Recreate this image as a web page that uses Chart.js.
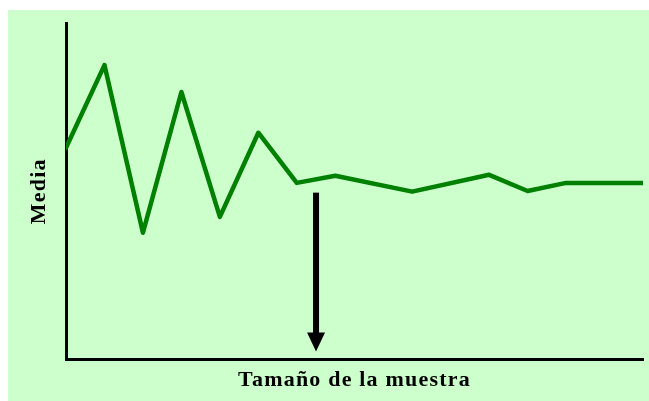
<!DOCTYPE html>
<html>
<head>
<meta charset="utf-8">
<script src="https://cdn.jsdelivr.net/npm/chart.js@4.4.0/dist/chart.umd.min.js"></script>
<style>
  html, body { margin: 0; padding: 0; background: #ffffff; }
  #box { position: absolute; left: 8px; top: 10px; width: 641px; height: 391px; background: #ccffcc; }
</style>
</head>
<body>
<div id="box"><canvas id="chart" width="641" height="391"></canvas></div>
<script>
// sample size steps (x) and the running mean (y)
const sampleSteps = [0, 1, 2, 3, 4, 5, 6, 7, 9, 11, 12, 13, 15];
const meanValues = [62.9, 87.5, 37.7, 79.5, 42.4, 67.4, 52.5, 54.6, 49.9, 54.9, 50.1, 52.5, 52.5];

// arrow marking where the mean settles
const arrowStep = [6.5];
const arrowFrom = [49.6];
const arrowTo = [2.4];

const xTitle = "Tamaño de la muestra";
const yTitle = "Media";

document.addEventListener("DOMContentLoaded", () => {
  const points = sampleSteps.map((s, i) => ({ x: s, y: meanValues[i] }));

  // old-style wide title lettering
  const spacingPlugin = {
    id: "spacing",
    beforeDraw(chart) {
      chart.ctx.letterSpacing = "1.2px";
    }
  };

  const arrowPlugin = {
    id: "arrow",
    afterDatasetsDraw(chart) {
      const { ctx, scales } = chart;
      const x = scales.x.getPixelForValue(arrowStep[0]);
      const y1 = scales.y.getPixelForValue(arrowFrom[0]);
      const y2 = scales.y.getPixelForValue(arrowTo[0]);
      const headLen = 19;
      const headHalf = 9;

      ctx.save();
      ctx.fillStyle = "#000000";
      ctx.fillRect(x - 3, y1, 6, y2 - y1 - headLen + 1);
      ctx.beginPath();
      ctx.moveTo(x - headHalf, y2 - headLen);
      ctx.lineTo(x + headHalf, y2 - headLen);
      ctx.lineTo(x, y2);
      ctx.closePath();
      ctx.fill();
      ctx.restore();
    }
  };

  new Chart(document.getElementById("chart"), {
    type: "line",
    data: {
      datasets: [
        {
          data: points,
          borderColor: "#008000",
          borderWidth: 4.5,
          borderJoinStyle: "round",
          borderCapStyle: "round",
          pointRadius: 0,
          tension: 0,
          fill: false
        }
      ]
    },
    options: {
      responsive: false,
      animation: false,
      layout: {
        padding: { top: 13, right: 6, bottom: 0, left: 0 }
      },
      plugins: {
        legend: { display: false },
        tooltip: { enabled: false }
      },
      scales: {
        x: {
          type: "linear",
          min: 0,
          max: 15,
          grid: { display: false, drawTicks: false },
          border: { display: true, color: "#000000", width: 3 },
          ticks: { display: false },
          title: {
            display: true,
            text: xTitle,
            color: "#000000",
            font: { family: "'Liberation Serif', 'Times New Roman', serif", size: 22, weight: "bold", lineHeight: 1.2 },
            padding: { top: 8, bottom: 7 }
          }
        },
        y: {
          min: 0,
          max: 100,
          grid: { display: false, drawTicks: false },
          border: { display: true, color: "#000000", width: 3 },
          ticks: { display: false },
          title: {
            display: true,
            text: yTitle,
            color: "#000000",
            font: { family: "'Liberation Serif', 'Times New Roman', serif", size: 22, weight: "bold", lineHeight: 1.2 },
            padding: { top: 18, bottom: 13.6 }
          }
        }
      }
    },
    plugins: [spacingPlugin, arrowPlugin]
  });
});
</script>
</body>
</html>
